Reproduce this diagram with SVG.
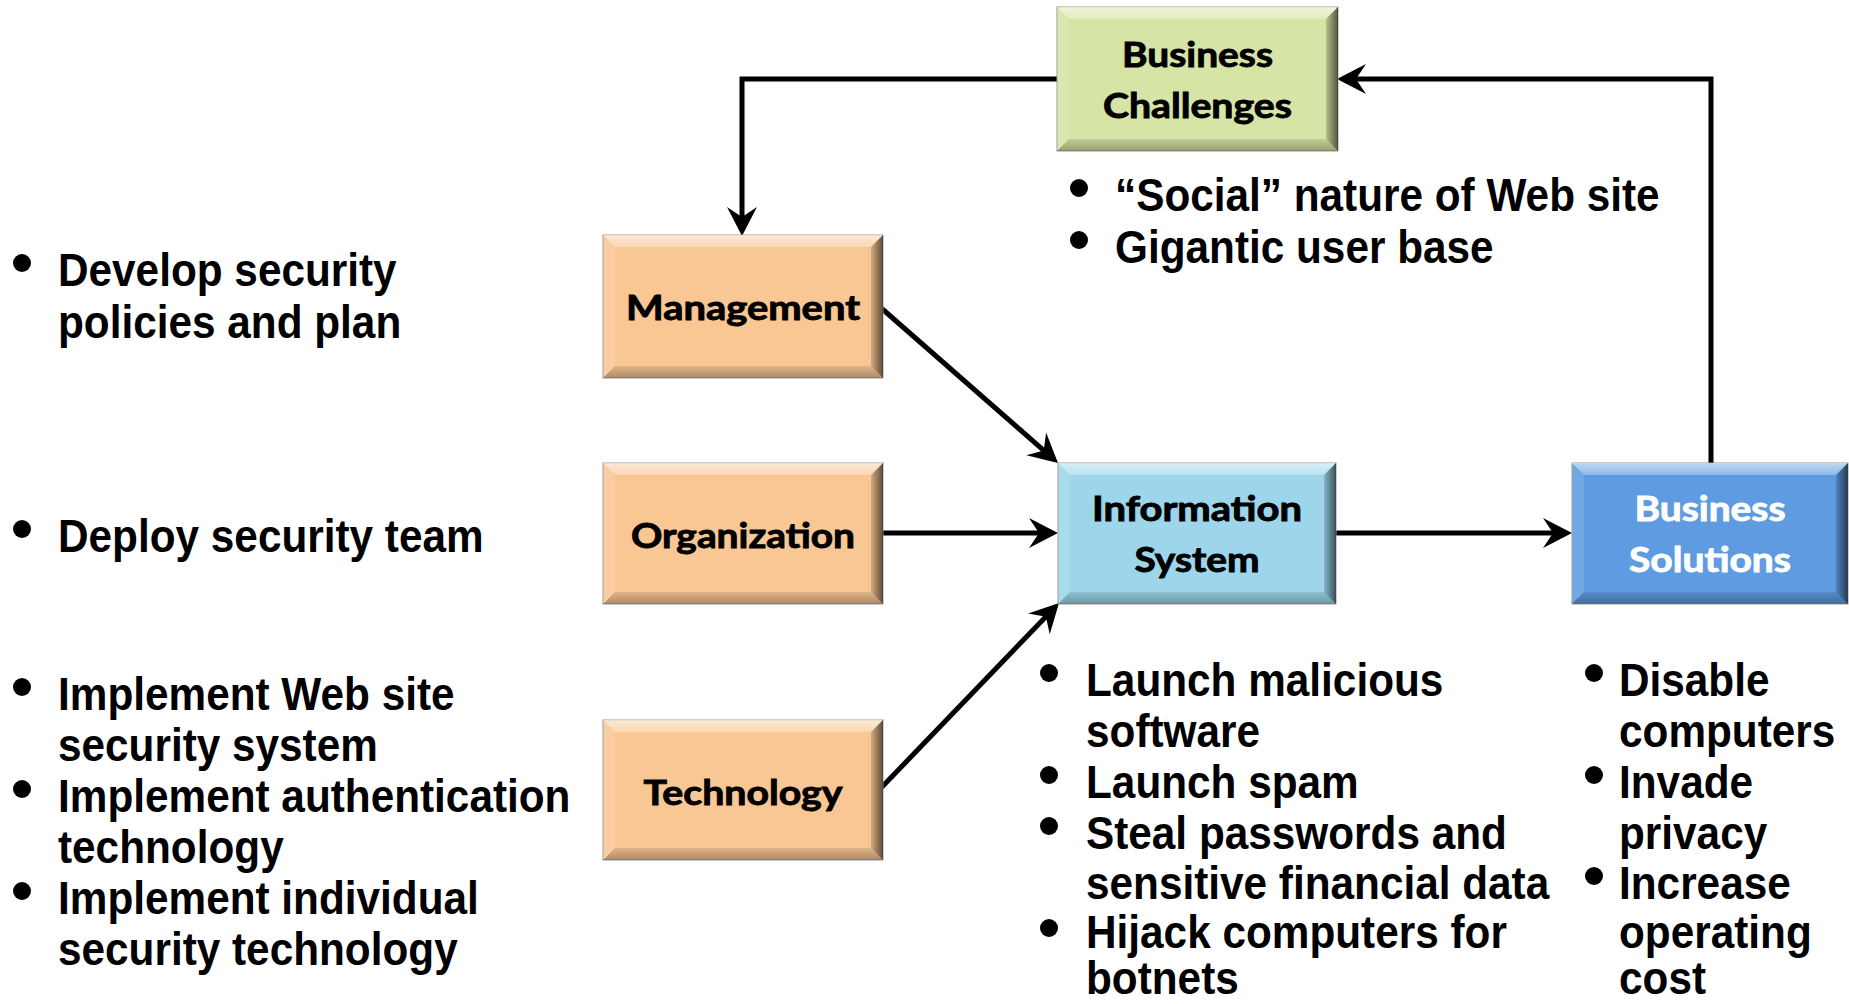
<svg xmlns="http://www.w3.org/2000/svg" width="1849" height="1004" viewBox="0 0 1849 1004">
<style>
.lbl{font-family:Lato,"Open Sans","Liberation Sans",sans-serif;font-weight:bold;font-size:35px;text-anchor:middle;fill:#000;stroke:#000;stroke-width:0.9px}
.wht{fill:#fff;stroke:#fff}
.bt{font-family:"Liberation Sans",Arial,sans-serif;font-weight:bold;font-size:46px;fill:#000}
.dot{fill:#000}
.edge{stroke:#9a9a9a;stroke-width:1}
.or{fill:#F9C794}
.gr{fill:#D6E4A5}
.lb{fill:#9DD6EA}
.bl{fill:#5E9BE0}
.tp{fill:url(#gTop)}
.lf{fill:#fff;fill-opacity:0.12}
.rt{fill:url(#gRight)}
.bm{fill:url(#gBottom)}
.con{fill:none;stroke:#000;stroke-width:5;marker-end:url(#arr)}
</style>
<defs>
<linearGradient id="gTop" x1="0" y1="0" x2="0" y2="1">
<stop offset="0" stop-color="#fff" stop-opacity="0.6"/>
<stop offset="1" stop-color="#fff" stop-opacity="0.3"/>
</linearGradient>
<linearGradient id="gRight" x1="0" y1="0" x2="1" y2="0">
<stop offset="0" stop-color="#000" stop-opacity="0.15"/>
<stop offset="1" stop-color="#000" stop-opacity="0.62"/>
</linearGradient>
<linearGradient id="gBottom" x1="0" y1="0" x2="0" y2="1">
<stop offset="0" stop-color="#000" stop-opacity="0.1"/>
<stop offset="1" stop-color="#000" stop-opacity="0.3"/>
</linearGradient>
<marker id="arr" markerUnits="userSpaceOnUse" viewBox="-20 -20 40 40" markerWidth="40" markerHeight="40" refX="0" refY="0" orient="auto" overflow="visible">
<path d="M10,0 L-19,-15 L-9,0 L-19,15 Z" fill="#000"/>
</marker>
</defs>
<rect width="1849" height="1004" fill="#fff"/>

<g id="connectors">
<path class="con" d="M1057,79 L742,79 L742,226"/>
<path class="con" d="M1711,463 L1711,79 L1347,79"/>
<path class="con" d="M880,307 L1050.5,456.4"/>
<path class="con" d="M880,533 L1048,533"/>
<path class="con" d="M880,789 L1052.1,610.2"/>
<path class="con" d="M1336,533 L1562,533"/>
</g>

<g id="business-challenges">
<rect class="gr edge" x="1057" y="7" width="281" height="144"/>
<polygon class="tp" points="1057,7 1338,7 1326,19 1069,19"/>
<polygon class="lf" points="1057,7 1069,19 1069,139 1057,151"/>
<polygon class="rt" points="1338,7 1338,151 1326,139 1326,19"/>
<polygon class="bm" points="1057,151 1069,139 1326,139 1338,151"/>
<text class="lbl" x="1197.5" y="67" textLength="151" lengthAdjust="spacingAndGlyphs">Business</text>
<text class="lbl" x="1197.5" y="118" textLength="189" lengthAdjust="spacingAndGlyphs">Challenges</text>
</g>

<g id="management">
<rect class="or edge" x="603" y="235" width="280" height="143"/>
<polygon class="tp" points="603,235 883,235 871,247 615,247"/>
<polygon class="lf" points="603,235 615,247 615,366 603,378"/>
<polygon class="rt" points="883,235 883,378 871,366 871,247"/>
<polygon class="bm" points="603,378 615,366 871,366 883,378"/>
<text class="lbl" x="743" y="320" textLength="234" lengthAdjust="spacingAndGlyphs">Management</text>
</g>

<g id="organization">
<rect class="or edge" x="603" y="463" width="280" height="141"/>
<polygon class="tp" points="603,463 883,463 871,475 615,475"/>
<polygon class="lf" points="603,463 615,475 615,592 603,604"/>
<polygon class="rt" points="883,463 883,604 871,592 871,475"/>
<polygon class="bm" points="603,604 615,592 871,592 883,604"/>
<text class="lbl" x="743" y="548" textLength="224" lengthAdjust="spacingAndGlyphs">Organization</text>
</g>

<g id="technology">
<rect class="or edge" x="603" y="720" width="280" height="140"/>
<polygon class="tp" points="603,720 883,720 871,732 615,732"/>
<polygon class="lf" points="603,720 615,732 615,848 603,860"/>
<polygon class="rt" points="883,720 883,860 871,848 871,732"/>
<polygon class="bm" points="603,860 615,848 871,848 883,860"/>
<text class="lbl" x="743" y="805" textLength="199" lengthAdjust="spacingAndGlyphs">Technology</text>
</g>

<g id="information-system">
<rect class="lb edge" x="1058" y="463" width="278" height="141"/>
<polygon class="tp" points="1058,463 1336,463 1324,475 1070,475"/>
<polygon class="lf" points="1058,463 1070,475 1070,592 1058,604"/>
<polygon class="rt" points="1336,463 1336,604 1324,592 1324,475"/>
<polygon class="bm" points="1058,604 1070,592 1324,592 1336,604"/>
<text class="lbl" x="1197" y="521" textLength="210" lengthAdjust="spacingAndGlyphs">Information</text>
<text class="lbl" x="1197" y="572" textLength="125" lengthAdjust="spacingAndGlyphs">System</text>
</g>

<g id="business-solutions">
<rect class="bl edge" x="1572" y="463" width="276" height="141"/>
<polygon class="tp" points="1572,463 1848,463 1836,475 1584,475"/>
<polygon class="lf" points="1572,463 1584,475 1584,592 1572,604"/>
<polygon class="rt" points="1848,463 1848,604 1836,592 1836,475"/>
<polygon class="bm" points="1572,604 1584,592 1836,592 1848,604"/>
<text class="lbl wht" x="1710" y="521" textLength="151" lengthAdjust="spacingAndGlyphs">Business</text>
<text class="lbl wht" x="1710" y="572" textLength="162" lengthAdjust="spacingAndGlyphs">Solutions</text>
</g>

<g id="challenges-notes">
<circle class="dot" cx="1079" cy="188" r="9"/>
<circle class="dot" cx="1079" cy="240" r="9"/>
<text class="bt" transform="translate(1115,211) scale(0.92,1)">“Social” nature of Web site</text>
<text class="bt" transform="translate(1115,263) scale(0.92,1)">Gigantic user base</text>
</g>

<g id="management-notes">
<circle class="dot" cx="22" cy="263" r="9"/>
<text class="bt" transform="translate(58,286) scale(0.92,1)">Develop security</text>
<text class="bt" transform="translate(58,338) scale(0.92,1)">policies and plan</text>
</g>

<g id="organization-notes">
<circle class="dot" cx="22" cy="529" r="9"/>
<text class="bt" transform="translate(58,552) scale(0.92,1)">Deploy security team</text>
</g>

<g id="technology-notes">
<circle class="dot" cx="22" cy="687" r="9"/>
<circle class="dot" cx="22" cy="789" r="9"/>
<circle class="dot" cx="22" cy="891" r="9"/>
<text class="bt" transform="translate(58,710) scale(0.92,1)">Implement Web site</text>
<text class="bt" transform="translate(58,761) scale(0.92,1)">security system</text>
<text class="bt" transform="translate(58,812) scale(0.92,1)">Implement authentication</text>
<text class="bt" transform="translate(58,863) scale(0.92,1)">technology</text>
<text class="bt" transform="translate(58,914) scale(0.92,1)">Implement individual</text>
<text class="bt" transform="translate(58,965) scale(0.92,1)">security technology</text>
</g>

<g id="system-notes">
<circle class="dot" cx="1049" cy="673" r="9"/>
<circle class="dot" cx="1049" cy="775" r="9"/>
<circle class="dot" cx="1049" cy="826" r="9"/>
<circle class="dot" cx="1049" cy="928" r="9"/>
<text class="bt" transform="translate(1086,696) scale(0.92,1)">Launch malicious</text>
<text class="bt" transform="translate(1086,747) scale(0.92,1)">software</text>
<text class="bt" transform="translate(1086,798) scale(0.92,1)">Launch spam</text>
<text class="bt" transform="translate(1086,849) scale(0.92,1)">Steal passwords and</text>
<text class="bt" transform="translate(1086,899) scale(0.92,1)">sensitive financial data</text>
<text class="bt" transform="translate(1086,948) scale(0.92,1)">Hijack computers for</text>
<text class="bt" transform="translate(1086,994) scale(0.92,1)">botnets</text>
</g>

<g id="solutions-notes">
<circle class="dot" cx="1594" cy="673" r="9"/>
<circle class="dot" cx="1594" cy="775" r="9"/>
<circle class="dot" cx="1594" cy="876" r="9"/>
<text class="bt" transform="translate(1619,696) scale(0.92,1)">Disable</text>
<text class="bt" transform="translate(1619,747) scale(0.92,1)">computers</text>
<text class="bt" transform="translate(1619,798) scale(0.92,1)">Invade</text>
<text class="bt" transform="translate(1619,849) scale(0.92,1)">privacy</text>
<text class="bt" transform="translate(1619,899) scale(0.92,1)">Increase</text>
<text class="bt" transform="translate(1619,948) scale(0.92,1)">operating</text>
<text class="bt" transform="translate(1619,994) scale(0.92,1)">cost</text>
</g>
</svg>
